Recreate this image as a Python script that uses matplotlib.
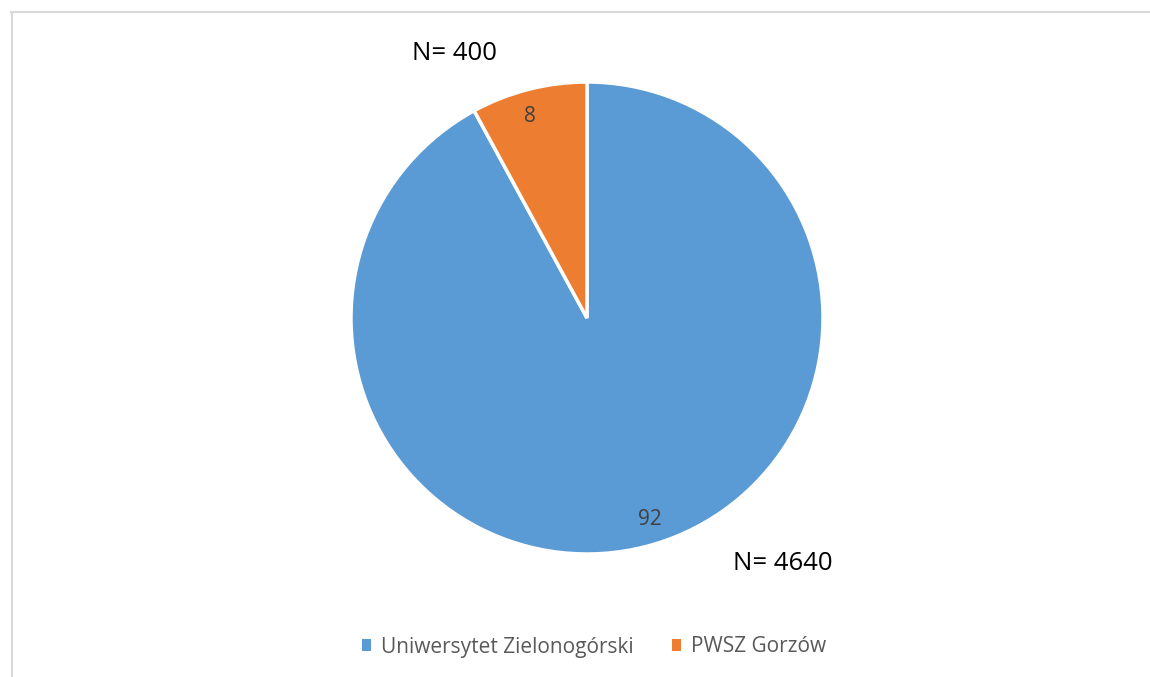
import matplotlib.pyplot as plt
from matplotlib.lines import Line2D
from matplotlib.patches import Patch

plt.rcParams['font.family'] = ['Open Sans', 'DejaVu Sans']

# data
categories = ['Uniwersytet Zielonogórski', 'PWSZ Gorzów']
counts = [4640, 400]
percent_labels = ['92', '8']
n_labels = ['N= 4640', 'N= 400']
colors = ['#5B9BD5', '#ED7D31']

W, H = 1150, 677
fig = plt.figure(figsize=(W / 100, H / 100), dpi=100)

# pie centre ~ (587, 318) px, radius ~236 px
cx, cy, r = 587, 318, 236
ax = fig.add_axes([(cx - r) / W, (H - cy - r) / H, 2 * r / W, 2 * r / H])
wedges, texts = ax.pie(counts, colors=colors, startangle=90, counterclock=False,
                       labels=percent_labels, labeldistance=0.88,
                       wedgeprops=dict(edgecolor='white', linewidth=2.5),
                       textprops=dict(color='#404040', fontsize=15))
ax.set_xlim(-1, 1)
ax.set_ylim(-1, 1)

# N annotations
fig.text(454 / W, 1 - 53 / H, n_labels[1], ha='center', va='center', fontsize=18.5, color='black')
fig.text(783 / W, 1 - 563 / H, n_labels[0], ha='center', va='center', fontsize=18.5, color='black')

# chart border (only left and top visible)
fig.add_artist(Line2D([11.5 / W, 11.5 / W], [0, 1 - 12 / H], transform=fig.transFigure,
                      color='#d9d9d9', linewidth=1.5))
fig.add_artist(Line2D([11 / W, 1], [1 - 12 / H, 1 - 12 / H], transform=fig.transFigure,
                      color='#d9d9d9', linewidth=1.5))

handles = [Patch(facecolor=c, edgecolor='none') for c in colors]
fig.legend(handles, categories, loc='center', bbox_to_anchor=(594 / W, 1 - 647 / H), ncol=2,
           frameon=False, fontsize=15, handlelength=0.45, handleheight=0.45,
           handletextpad=0.5, columnspacing=1.8, labelcolor='#595959')

fig.savefig('out.png', dpi=100)
